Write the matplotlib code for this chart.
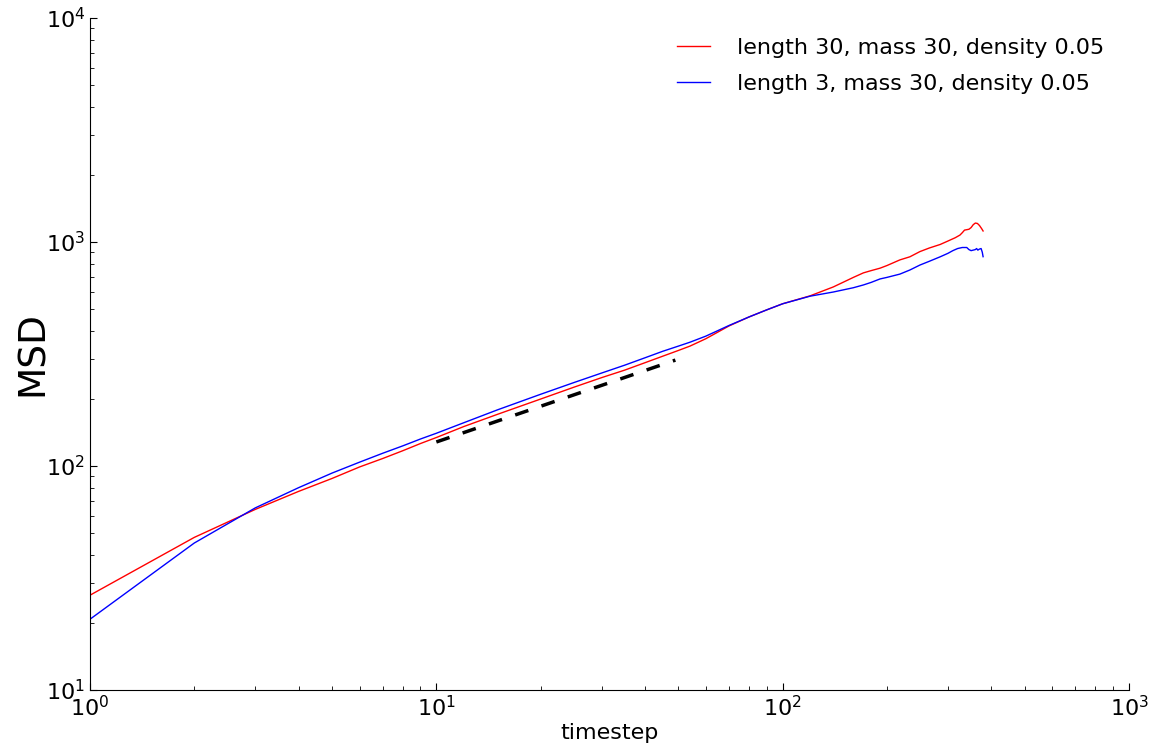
import matplotlib
matplotlib.use("Agg")
import matplotlib.pyplot as plt

# MSD vs timestep
t_red = [1, 2, 3, 4, 5, 6, 7, 8, 9, 10, 12, 15, 20, 25, 30, 35, 40, 45, 50, 54, 60, 70, 80, 90, 100,
         120, 140, 160, 171, 180, 191, 200, 218, 233, 249, 265, 285, 300, 315, 325, 330, 335, 340,
         345, 350, 355, 360, 365, 370, 375, 379]
msd_red = [26.5, 48, 64, 77, 88, 99, 108, 117, 126, 134, 150, 170, 199, 225, 248, 268, 289, 309, 328, 343, 370, 422, 463, 498, 530,
           575, 630, 695, 728, 745, 764, 785, 832, 859, 906, 940, 975, 1010, 1045, 1074, 1100, 1130, 1135,
           1140, 1160, 1195, 1215, 1210, 1185, 1150, 1120]

t_blue = [1, 2, 3, 4, 5, 6, 7, 8, 9, 10, 12, 15, 20, 25, 30, 35, 40, 45, 50, 54, 60, 70, 80, 90, 100,
          120, 140, 160, 171, 180, 191, 200, 218, 233, 249, 265, 285, 300, 310, 320, 330, 340, 345,
          350, 355, 360, 363, 366, 370, 374, 377, 379]
msd_blue = [20.7, 45.3, 65, 80, 93, 104, 114, 123, 132, 140, 156, 178, 209, 236, 260, 282, 304, 325, 343, 357, 380, 424, 463, 498, 530,
            573, 598, 625, 643, 660, 684, 695, 719, 750, 789, 820, 859, 890, 915, 935, 945, 945, 925,
            915, 920, 925, 935, 920, 930, 935, 900, 860]

# guide line
t_guide = [10, 49]
msd_guide = [128, 297]

fig = plt.figure(figsize=(11.51, 7.5), dpi=100)
ax = fig.add_axes([0.0782, 0.08, 0.9027, 0.896])

ax.plot(t_red, msd_red, color='red', lw=1.0, label='length 30, mass 30, density 0.05')
ax.plot(t_blue, msd_blue, color='blue', lw=1.0, label='length 3, mass 30, density 0.05')
ax.plot(t_guide, msd_guide, 'k--', lw=2.5, dashes=(4, 4))

ax.set_xscale('log')
ax.set_yscale('log')
ax.set_xlim(1, 1000)
ax.set_ylim(10, 10000)

ax.spines['top'].set_visible(False)
ax.spines['right'].set_visible(False)
ax.tick_params(which='both', direction='in', top=False, right=False, labelsize=16)
ax.tick_params(which='major', length=5)
ax.tick_params(which='minor', length=3)

ax.set_xlabel('timestep', fontsize=16, labelpad=2)
ax.set_ylabel('MSD', fontsize=27, labelpad=-4)

ax.legend(loc='upper right', frameon=False, fontsize=16, handlelength=1.5,
          handletextpad=1.2, labelspacing=0.7, bbox_to_anchor=(0.995, 1.0))

fig.savefig('out.png', dpi=100)
